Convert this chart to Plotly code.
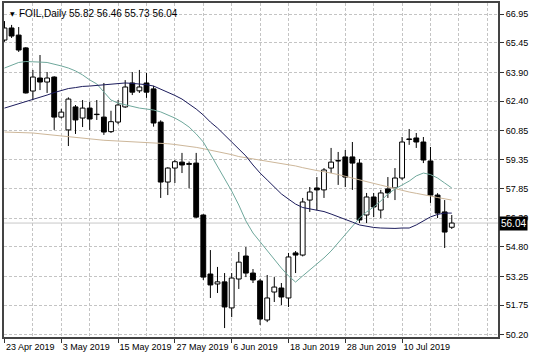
import plotly.graph_objects as go

# ---------------- data ----------------
date_labels = ["23 Apr 2019", "3 May 2019", "15 May 2019", "27 May 2019",
               "6 Jun 2019", "18 Jun 2019", "28 Jun 2019", "10 Jul 2019"]
label_bars = [0, 8, 16, 24, 32, 40, 48, 56]

opens = [65.59, 66.22, 65.85, 65.18, 62.93, 63.61, 63.40, 63.66, 61.57, 60.90,
         62.10, 61.52, 62.04, 61.72, 61.57, 60.81, 61.31, 62.10, 63.35, 62.94,
         63.35, 63.04, 61.31, 58.18, 58.91, 59.22, 59.10, 59.17, 56.46, 53.38,
         52.86, 52.97, 51.61, 53.12, 54.32, 53.43, 53.02, 50.98, 52.44, 52.65,
         52.13, 54.48, 54.37, 57.24, 57.87, 57.77, 58.91, 59.28, 59.49, 59.49,
         59.17, 56.46, 57.40, 56.72, 57.82, 57.87, 58.39, 60.43, 60.48, 60.27,
         59.28, 57.50, 56.62, 55.82]
highs = [66.58, 66.38, 66.27, 65.22, 64.03, 64.81, 63.92, 63.70, 62.00, 62.60,
         62.20, 62.46, 62.36, 62.46, 63.35, 61.90, 62.46, 63.50, 63.92, 64.03,
         63.87, 63.20, 61.40, 58.95, 59.33, 59.70, 59.25, 59.70, 56.50, 54.63,
         53.75, 53.43, 53.43, 54.53, 54.79, 53.64, 53.12, 53.33, 53.22, 52.91,
         54.48, 54.58, 57.35, 57.92, 58.44, 58.91, 59.96, 59.75, 59.85, 60.27,
         59.38, 57.61, 57.61, 57.77, 58.44, 58.91, 60.53, 60.95, 60.74, 60.53,
         60.01, 57.60, 57.24, 56.46]
lows = [65.50, 65.70, 64.97, 62.80, 62.46, 62.98, 62.83, 60.90, 61.50, 60.06,
        60.69, 61.05, 60.90, 61.42, 60.64, 60.74, 61.20, 62.05, 62.72, 62.83,
        62.57, 61.07, 57.35, 57.50, 58.13, 58.65, 57.85, 56.30, 53.07, 52.13,
        52.39, 50.56, 51.13, 52.60, 53.22, 52.91, 50.72, 50.87, 51.92, 51.76,
        51.66, 53.43, 54.30, 56.62, 56.72, 57.35, 58.65, 58.03, 57.92, 57.77,
        56.04, 56.04, 56.35, 56.30, 57.35, 57.24, 58.29, 60.12, 59.96, 59.17,
        57.09, 56.30, 54.74, 55.73]
closes = [66.22, 65.80, 65.07, 62.83, 63.66, 63.40, 63.61, 61.57, 61.83, 62.51,
          61.42, 62.04, 61.47, 61.70, 60.79, 61.33, 62.20, 63.14, 62.87, 63.14,
          62.87, 61.26, 58.18, 58.91, 59.24, 59.07, 59.15, 56.35, 53.22, 52.81,
          52.97, 51.66, 53.17, 54.00, 53.43, 53.07, 51.03, 52.13, 52.70, 52.18,
          54.27, 54.37, 57.14, 57.66, 57.77, 58.81, 59.22, 59.30, 58.44, 59.17,
          56.20, 57.40, 56.88, 57.61, 57.61, 58.39, 60.27, 60.40, 60.27, 59.33,
          57.50, 56.56, 55.57, 56.04]

ma_navy = [62.04, 62.15, 62.25, 62.36, 62.49, 62.62, 62.72, 62.85, 62.96, 63.06,
           63.11, 63.17, 63.19, 63.23, 63.26, 63.30, 63.33, 63.35, 63.33, 63.30,
           63.26, 63.19, 63.04, 62.88, 62.70, 62.51, 62.25, 61.99, 61.68, 61.31,
           61.00, 60.63, 60.27, 59.90, 59.54, 59.07, 58.65, 58.29, 57.92, 57.56,
           57.29, 57.03, 56.85, 56.77, 56.72, 56.64, 56.51, 56.38, 56.25, 56.09,
           55.94, 55.86, 55.81, 55.78, 55.76, 55.76, 55.78, 55.78, 55.94, 56.15,
           56.36, 56.49, 56.56, 56.56]
ma_teal = [64.13, 64.29, 64.42, 64.47, 64.47, 64.44, 64.42, 64.34, 64.24, 64.13,
           63.98, 63.77, 63.51, 63.30, 62.88, 62.46, 62.30, 62.20, 62.10, 62.04,
           61.99, 61.94, 61.84, 61.68, 61.52, 61.31, 61.05, 60.69, 60.27, 59.64,
           59.02, 58.39, 57.71, 56.98, 56.15, 55.52, 55.05, 54.63, 54.16, 53.69,
           53.28, 52.96, 53.28, 53.59, 53.90, 54.22, 54.58, 55.00, 55.42, 55.89,
           56.30, 56.62, 56.88, 57.19, 57.56, 57.82, 58.03, 58.23, 58.50, 58.65,
           58.57, 58.39, 58.13, 57.87]
ma_tan = [60.79, 60.78, 60.76, 60.75, 60.74, 60.70, 60.66, 60.61, 60.57, 60.53,
          60.49, 60.45, 60.43, 60.39, 60.36, 60.34, 60.32, 60.30, 60.27, 60.26,
          60.24, 60.23, 60.22, 60.18, 60.14, 60.10, 60.04, 59.99, 59.92, 59.85,
          59.77, 59.70, 59.61, 59.51, 59.45, 59.40, 59.35, 59.29, 59.23, 59.15,
          59.08, 59.02, 58.93, 58.84, 58.78, 58.72, 58.66, 58.57, 58.48, 58.38,
          58.29, 58.20, 58.11, 58.02, 57.92, 57.84, 57.75, 57.66, 57.59, 57.53,
          57.45, 57.37, 57.31, 57.24]

price_ticks = [66.95, 65.45, 63.90, 62.40, 60.85, 59.35, 57.85, 56.30,
               54.80, 53.25, 51.75, 50.20]
last_price = 56.04
symbol_text = "FOIL,Daily"
ohlc_text = "55.82 56.46 55.73 56.04"

# ---------------- figure ----------------
idx = list(range(len(opens)))
FONT = "Liberation Sans, Arial, sans-serif"
GRID = "#c4c4c4"

body_base = [min(o, c) for o, c in zip(opens, closes)]
body_len = [max(abs(c - o), 0.02) for o, c in zip(opens, closes)]
body_col = ["white" if c >= o else "black" for o, c in zip(opens, closes)]

wx, wy = [], []
for i, o, h, l, c in zip(idx, opens, highs, lows, closes):
    top, bot = max(o, c), min(o, c)
    wx += [i, i, None, i, i, None]
    wy += [h, top, None, bot, l, None]

fig = go.Figure()
fig.add_trace(go.Scatter(x=wx, y=wy, mode="lines",
                         line=dict(color="black", width=1), hoverinfo="skip"))
fig.add_trace(go.Bar(x=idx, y=body_len, base=body_base, width=0.68,
                     marker=dict(color=body_col, line=dict(color="black", width=1)),
                     hoverinfo="skip"))
fig.add_trace(go.Scatter(x=idx, y=ma_tan, mode="lines",
                         line=dict(color="#cdb79a", width=1), hoverinfo="skip"))
fig.add_trace(go.Scatter(x=idx, y=ma_teal, mode="lines",
                         line=dict(color="#6fa89c", width=1), hoverinfo="skip"))
fig.add_trace(go.Scatter(x=idx, y=ma_navy, mode="lines",
                         line=dict(color="#1c1c5c", width=1), hoverinfo="skip"))

# bid line
fig.add_shape(type="line", xref="paper", x0=0, x1=1, yref="y",
              y0=last_price, y1=last_price,
              line=dict(color="#c8c8c8", width=1), layer="below")

fig.update_layout(
    width=536, height=358,
    margin=dict(l=4, r=38, t=3, b=21, autoexpand=False),
    paper_bgcolor="white", plot_bgcolor="white",
    showlegend=False, barmode="overlay",
    font=dict(family=FONT, size=9, color="black"),
    xaxis=dict(
        range=[-0.07, 69.51], tickvals=label_bars, ticktext=date_labels,
        ticklabelposition="outside right", tickangle=0, automargin=False,
        ticks="outside", ticklen=4, tickcolor="#333", tickwidth=1,
        showgrid=True, gridcolor=GRID, griddash="3px,2px", gridwidth=1,
        minor=dict(tick0=0, dtick=4, showgrid=True, gridcolor=GRID,
                   griddash="3px,2px", gridwidth=1, ticks=""),
        showline=True, linecolor="#444", linewidth=2, mirror=True,
        zeroline=False, tickfont=dict(size=9),
    ),
    yaxis=dict(
        range=[50.093, 67.524], side="right", automargin=False,
        tickvals=price_ticks, ticktext=[f"{v:.2f}" for v in price_ticks],
        ticks="outside", ticklen=4, tickcolor="#333",
        showgrid=True, gridcolor=GRID, griddash="3px,2px", gridwidth=1,
        showline=True, linecolor="#444", linewidth=2, mirror=True,
        zeroline=False, tickfont=dict(size=9),
    ),
)

fig.add_annotation(xref="paper", yref="paper", x=0, y=1, xanchor="left",
                   yanchor="top", xshift=4, yshift=-5, showarrow=False,
                   text="\u25BC", font=dict(family="DejaVu Sans", size=6, color="black"))
fig.add_annotation(xref="paper", yref="paper", x=0, y=1, xanchor="left",
                   yanchor="top", xshift=13, yshift=-3, showarrow=False,
                   text=symbol_text, font=dict(family=FONT, size=10, color="black"))
fig.add_annotation(xref="paper", yref="paper", x=0, y=1, xanchor="left",
                   yanchor="top", xshift=63, yshift=-3, showarrow=False,
                   text=ohlc_text, font=dict(family=FONT, size=10, color="black"))
fig.add_annotation(xref="paper", yref="y", x=1, y=last_price, xanchor="left",
                   yanchor="middle", xshift=1, showarrow=False,
                   text=f"{last_price:.2f}", bgcolor="black", borderpad=1,
                   font=dict(family=FONT, size=10, color="white"))

fig.write_html("out.html")
